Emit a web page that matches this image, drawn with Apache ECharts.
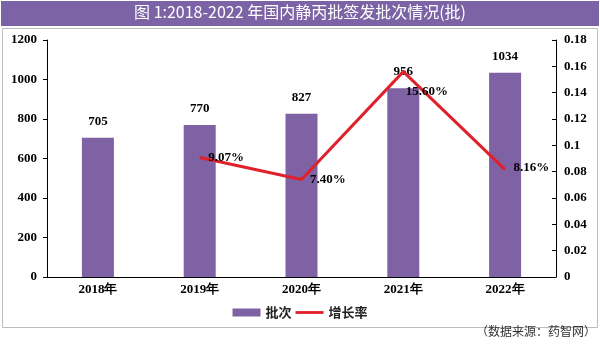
<!DOCTYPE html>
<html><head><meta charset="utf-8">
<script src="https://cdn.jsdelivr.net/npm/echarts@6/dist/echarts.min.js"></script>
<style>html,body{margin:0;padding:0;background:#fff}#c{width:600px;height:344px}</style>
</head><body><div id="c"></div>
<script>
const categories = ['2018年','2019年','2020年','2021年','2022年'];
const batches = [705, 770, 827, 956, 1034];
const growth = [null, 0.0907, 0.074, 0.156, 0.0816];
const growthLabels = ['', '9.07%', '7.40%', '15.60%', '8.16%'];
const leftTicks = [0,200,400,600,800,1000,1200];
const rightTicks = [0,0.02,0.04,0.06,0.08,0.1,0.12,0.14,0.16,0.18];

const chart = echarts.init(document.getElementById('c'));
const serif = 'Liberation Serif';
const lblOffsets = [[0,0],[0,0],[0,0],[-6,20],[0,-2]];
chart.setOption({
  animation: false,
  graphic: [
    {type:'rect', shape:{x:2.5,y:28.5,width:595,height:299}, style:{fill:'none', stroke:'#bdbdbd', lineWidth:1}},
    {type:'rect', shape:{x:1,y:1,width:598,height:25}, style:{fill:'#7c63a5'}},
    {type:'text', left:'center', top:4, style:{text:'图 1:2018-2022 年国内静丙批签发批次情况(批)', fill:'#fff', font:'16px "Noto Sans CJK SC"'}},
    {type:'text', right:4, top:325, style:{text:'（数据来源：药智网）', fill:'#333', font:'12px "Noto Sans CJK SC"'}}
  ],
  legend: {
    bottom: 20, left: 'center', itemGap: 4,
    textStyle:{fontFamily:'Noto Sans CJK SC', fontWeight:'bold', fontSize:13, color:'#222'},
    data: [
      {name:'批次', icon:'rect', itemStyle:{color:'#7e62a3'}},
      {name:'增长率', icon:'path://M0,0H10V1H0Z', itemStyle:{color:'#e0202a', opacity:1}}
    ],
    itemWidth: 28, itemHeight: 8
  },
  grid: {left:47, right:44, top:40, bottom:67},
  xAxis: {
    type:'category', data: categories,
    axisLine:{lineStyle:{color:'#000'}},
    axisTick:{inside:true, length:5, lineStyle:{color:'#000'}},
    axisLabel:{color:'#000', fontFamily:serif, fontWeight:'bold', fontSize:13, margin:6}
  },
  yAxis: [
    {type:'value', min:0, max:1200, interval:200,
     axisLine:{show:true, lineStyle:{color:'#000'}},
     axisTick:{show:true, length:4, lineStyle:{color:'#000'}},
     splitLine:{show:false},
     axisLabel:{color:'#000', fontFamily:serif, fontWeight:'bold', fontSize:13, margin:10,
       formatter: v => String(v)}},
    {type:'value', min:0, max:0.18, interval:0.02,
     axisLine:{show:true, lineStyle:{color:'#000'}},
     axisTick:{show:true, inside:true, length:4, lineStyle:{color:'#000'}},
     splitLine:{show:false},
     axisLabel:{color:'#000', fontFamily:serif, fontWeight:'bold', fontSize:13, margin:8,
       formatter: v => String(Math.round(v*100)/100)}}
  ],
  series: [
    {name:'批次', type:'bar', data: batches, barWidth:32, itemStyle:{color:'#7e62a3'},
     label:{show:true, position:'top', distance:10, color:'#000', fontFamily:serif, fontWeight:'bold', fontSize:13}},
    {name:'增长率', type:'line', yAxisIndex:1, symbol:'circle', symbolSize:1, showSymbol:true,
     itemStyle:{color:'rgba(224,32,42,0)'},
     lineStyle:{color:'#e0202a', width:3},
     label:{show:true, position:'right', distance:8, color:'#000', fontFamily:serif, fontWeight:'bold', fontSize:13,
       formatter: p => growthLabels[p.dataIndex]},
     data: growth.map((v,i)=>({value:v, label:{offset:lblOffsets[i]}}))}
  ]
});
</script></body></html>
